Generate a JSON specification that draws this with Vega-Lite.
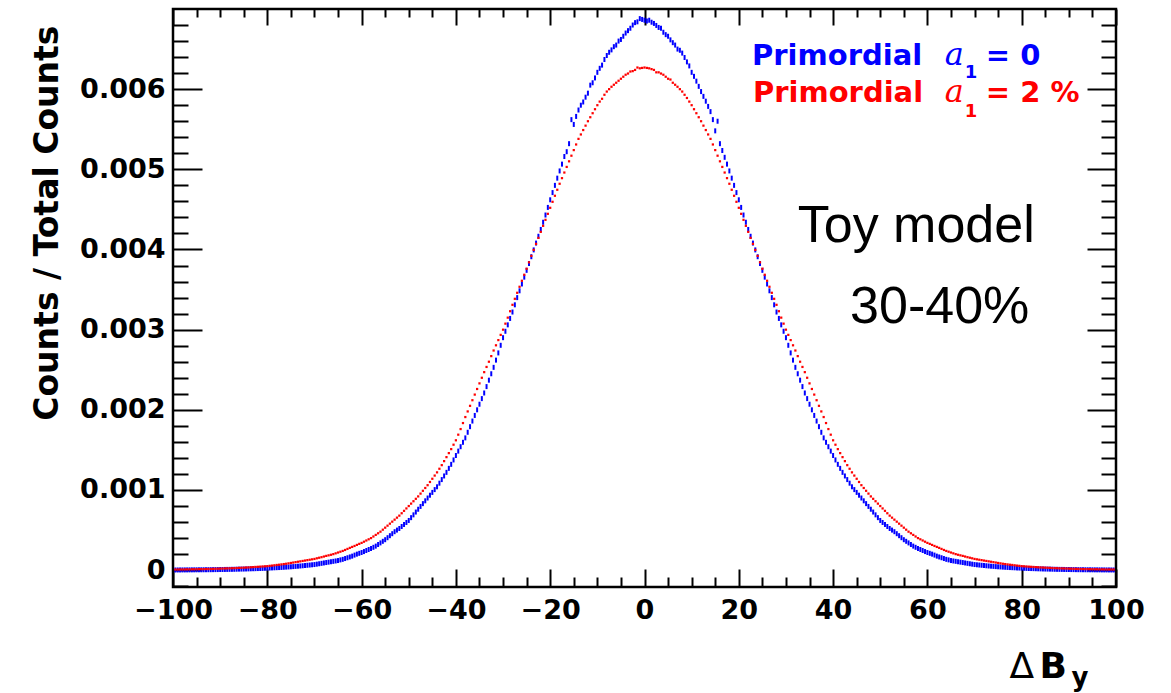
{
  "$schema": "https://vega.github.io/schema/vega-lite/v6.json",
  "width": 943,
  "height": 578,
  "autosize": {"type": "none"},
  "padding": {"left": 173, "top": 9, "right": 55, "bottom": 106},
  "background": "white",
  "config": {
    "view": {"stroke": "black", "strokeWidth": 2.5},
    "axis": {
      "grid": false,
      "domain": false,
      "labelFont": "DejaVu Sans",
      "labelFontWeight": "bold",
      "labelFontSize": 27,
      "labelColor": "black",
      "tickColor": "black",
      "tickWidth": 2,
      "titleColor": "black",
      "labelFlush": false,
      "labelOverlap": false
    }
  },
  "data": {
    "values": [
      {"x":-99.5,"b":0.0022e-3,"r":0.0082e-3},{"x":-99,"b":0.0025e-3,"r":0.0085e-3},{"x":-98.5,"b":0.0028e-3,"r":0.0088e-3},{"x":-98,"b":0.003e-3,"r":0.009e-3},
      {"x":-97.5,"b":0.0032e-3,"r":0.0095e-3},{"x":-97,"b":0.0035e-3,"r":0.010e-3},{"x":-96.5,"b":0.0038e-3,"r":0.0105e-3},{"x":-96,"b":0.004e-3,"r":0.011e-3},
      {"x":-95.5,"b":0.0042e-3,"r":0.0115e-3},{"x":-95,"b":0.0045e-3,"r":0.012e-3},{"x":-94.5,"b":0.0048e-3,"r":0.0125e-3},{"x":-94,"b":0.005e-3,"r":0.013e-3},
      {"x":-93.5,"b":0.0052e-3,"r":0.0135e-3},{"x":-93,"b":0.0055e-3,"r":0.014e-3},{"x":-92.5,"b":0.0058e-3,"r":0.0145e-3},{"x":-92,"b":0.006e-3,"r":0.015e-3},
      {"x":-91.5,"b":0.0065e-3,"r":0.016e-3},{"x":-91,"b":0.007e-3,"r":0.017e-3},{"x":-90.5,"b":0.0075e-3,"r":0.018e-3},{"x":-90,"b":0.008e-3,"r":0.019e-3},
      {"x":-89.5,"b":0.0085e-3,"r":0.020e-3},{"x":-89,"b":0.009e-3,"r":0.021e-3},{"x":-88.5,"b":0.0095e-3,"r":0.022e-3},{"x":-88,"b":0.010e-3,"r":0.023e-3},
      {"x":-87.5,"b":0.0105e-3,"r":0.024e-3},{"x":-87,"b":0.011e-3,"r":0.025e-3},{"x":-86.5,"b":0.012e-3,"r":0.0265e-3},{"x":-86,"b":0.013e-3,"r":0.028e-3},
      {"x":-85.5,"b":0.0135e-3,"r":0.0295e-3},{"x":-85,"b":0.014e-3,"r":0.031e-3},{"x":-84.5,"b":0.015e-3,"r":0.0325e-3},{"x":-84,"b":0.016e-3,"r":0.034e-3},
      {"x":-83.5,"b":0.017e-3,"r":0.036e-3},{"x":-83,"b":0.018e-3,"r":0.038e-3},{"x":-82.5,"b":0.019e-3,"r":0.040e-3},{"x":-82,"b":0.020e-3,"r":0.042e-3},
      {"x":-81.5,"b":0.021e-3,"r":0.044e-3},{"x":-81,"b":0.022e-3,"r":0.046e-3},{"x":-80.5,"b":0.0235e-3,"r":0.048e-3},{"x":-80,"b":0.025e-3,"r":0.050e-3},
      {"x":-79.5,"b":0.0265e-3,"r":0.054e-3},{"x":-79,"b":0.028e-3,"r":0.057e-3},{"x":-78.5,"b":0.0295e-3,"r":0.061e-3},{"x":-78,"b":0.031e-3,"r":0.065e-3},
      {"x":-77.5,"b":0.0325e-3,"r":0.068e-3},{"x":-77,"b":0.034e-3,"r":0.072e-3},{"x":-76.5,"b":0.036e-3,"r":0.076e-3},{"x":-76,"b":0.038e-3,"r":0.080e-3},
      {"x":-75.5,"b":0.040e-3,"r":0.085e-3},{"x":-75,"b":0.042e-3,"r":0.090e-3},{"x":-74.5,"b":0.0445e-3,"r":0.095e-3},{"x":-74,"b":0.047e-3,"r":0.100e-3},
      {"x":-73.5,"b":0.0495e-3,"r":0.105e-3},{"x":-73,"b":0.052e-3,"r":0.110e-3},{"x":-72.5,"b":0.055e-3,"r":0.115e-3},{"x":-72,"b":0.058e-3,"r":0.120e-3},
      {"x":-71.5,"b":0.061e-3,"r":0.125e-3},{"x":-71,"b":0.064e-3,"r":0.130e-3},{"x":-70.5,"b":0.067e-3,"r":0.135e-3},{"x":-70,"b":0.070e-3,"r":0.140e-3},
      {"x":-69.5,"b":0.075e-3,"r":0.148e-3},{"x":-69,"b":0.080e-3,"r":0.155e-3},{"x":-68.5,"b":0.085e-3,"r":0.162e-3},{"x":-68,"b":0.090e-3,"r":0.170e-3},
      {"x":-67.5,"b":0.095e-3,"r":0.178e-3},{"x":-67,"b":0.100e-3,"r":0.185e-3},{"x":-66.5,"b":0.105e-3,"r":0.192e-3},{"x":-66,"b":0.110e-3,"r":0.200e-3},
      {"x":-65.5,"b":0.115e-3,"r":0.210e-3},{"x":-65,"b":0.120e-3,"r":0.220e-3},{"x":-64.5,"b":0.128e-3,"r":0.230e-3},{"x":-64,"b":0.135e-3,"r":0.240e-3},
      {"x":-63.5,"b":0.145e-3,"r":0.252e-3},{"x":-63,"b":0.155e-3,"r":0.265e-3},{"x":-62.5,"b":0.165e-3,"r":0.278e-3},{"x":-62,"b":0.175e-3,"r":0.290e-3},
      {"x":-61.5,"b":0.188e-3,"r":0.302e-3},{"x":-61,"b":0.200e-3,"r":0.315e-3},{"x":-60.5,"b":0.210e-3,"r":0.328e-3},{"x":-60,"b":0.220e-3,"r":0.340e-3},
      {"x":-59.5,"b":0.232e-3,"r":0.355e-3},{"x":-59,"b":0.245e-3,"r":0.370e-3},{"x":-58.5,"b":0.258e-3,"r":0.385e-3},{"x":-58,"b":0.270e-3,"r":0.400e-3},
      {"x":-57.5,"b":0.285e-3,"r":0.420e-3},{"x":-57,"b":0.300e-3,"r":0.440e-3},{"x":-56.5,"b":0.320e-3,"r":0.460e-3},{"x":-56,"b":0.340e-3,"r":0.480e-3},
      {"x":-55.5,"b":0.360e-3,"r":0.505e-3},{"x":-55,"b":0.380e-3,"r":0.530e-3},{"x":-54.5,"b":0.405e-3,"r":0.555e-3},{"x":-54,"b":0.430e-3,"r":0.580e-3},
      {"x":-53.5,"b":0.455e-3,"r":0.605e-3},{"x":-53,"b":0.480e-3,"r":0.630e-3},{"x":-52.5,"b":0.500e-3,"r":0.655e-3},{"x":-52,"b":0.520e-3,"r":0.680e-3},
      {"x":-51.5,"b":0.545e-3,"r":0.710e-3},{"x":-51,"b":0.570e-3,"r":0.740e-3},{"x":-50.5,"b":0.595e-3,"r":0.770e-3},{"x":-50,"b":0.620e-3,"r":0.800e-3},
      {"x":-49.5,"b":0.655e-3,"r":0.830e-3},{"x":-49,"b":0.690e-3,"r":0.860e-3},{"x":-48.5,"b":0.725e-3,"r":0.890e-3},{"x":-48,"b":0.760e-3,"r":0.920e-3},
      {"x":-47.5,"b":0.795e-3,"r":0.955e-3},{"x":-47,"b":0.830e-3,"r":0.990e-3},{"x":-46.5,"b":0.865e-3,"r":1.025e-3},{"x":-46,"b":0.900e-3,"r":1.060e-3},
      {"x":-45.5,"b":0.935e-3,"r":1.100e-3},{"x":-45,"b":0.970e-3,"r":1.140e-3},{"x":-44.5,"b":1.005e-3,"r":1.180e-3},{"x":-44,"b":1.040e-3,"r":1.220e-3},
      {"x":-43.5,"b":1.085e-3,"r":1.265e-3},{"x":-43,"b":1.130e-3,"r":1.310e-3},{"x":-42.5,"b":1.175e-3,"r":1.360e-3},{"x":-42,"b":1.220e-3,"r":1.410e-3},
      {"x":-41.5,"b":1.270e-3,"r":1.460e-3},{"x":-41,"b":1.320e-3,"r":1.510e-3},{"x":-40.5,"b":1.375e-3,"r":1.565e-3},{"x":-40,"b":1.430e-3,"r":1.620e-3},
      {"x":-39.5,"b":1.485e-3,"r":1.690e-3},{"x":-39,"b":1.540e-3,"r":1.760e-3},{"x":-38.5,"b":1.595e-3,"r":1.835e-3},{"x":-38,"b":1.650e-3,"r":1.910e-3},
      {"x":-37.5,"b":1.720e-3,"r":1.980e-3},{"x":-37,"b":1.790e-3,"r":2.050e-3},{"x":-36.5,"b":1.860e-3,"r":2.120e-3},{"x":-36,"b":1.930e-3,"r":2.190e-3},
      {"x":-35.5,"b":2.000e-3,"r":2.260e-3},{"x":-35,"b":2.070e-3,"r":2.330e-3},{"x":-34.5,"b":2.140e-3,"r":2.400e-3},{"x":-34,"b":2.210e-3,"r":2.470e-3},
      {"x":-33.5,"b":2.290e-3,"r":2.535e-3},{"x":-33,"b":2.370e-3,"r":2.600e-3},{"x":-32.5,"b":2.450e-3,"r":2.670e-3},{"x":-32,"b":2.530e-3,"r":2.740e-3},
      {"x":-31.5,"b":2.620e-3,"r":2.805e-3},{"x":-31,"b":2.710e-3,"r":2.870e-3},{"x":-30.5,"b":2.805e-3,"r":2.935e-3},{"x":-30,"b":2.900e-3,"r":3.000e-3},
      {"x":-29.5,"b":2.980e-3,"r":3.075e-3},{"x":-29,"b":3.060e-3,"r":3.150e-3},{"x":-28.5,"b":3.140e-3,"r":3.230e-3},{"x":-28,"b":3.220e-3,"r":3.310e-3},
      {"x":-27.5,"b":3.310e-3,"r":3.385e-3},{"x":-27,"b":3.400e-3,"r":3.460e-3},{"x":-26.5,"b":3.485e-3,"r":3.535e-3},{"x":-26,"b":3.570e-3,"r":3.610e-3},
      {"x":-25.5,"b":3.655e-3,"r":3.685e-3},{"x":-25,"b":3.740e-3,"r":3.760e-3},{"x":-24.5,"b":3.825e-3,"r":3.840e-3},{"x":-24,"b":3.910e-3,"r":3.920e-3},
      {"x":-23.5,"b":3.995e-3,"r":3.995e-3},{"x":-23,"b":4.080e-3,"r":4.070e-3},{"x":-22.5,"b":4.165e-3,"r":4.145e-3},{"x":-22,"b":4.250e-3,"r":4.220e-3},
      {"x":-21.5,"b":4.340e-3,"r":4.295e-3},{"x":-21,"b":4.430e-3,"r":4.370e-3},{"x":-20.5,"b":4.525e-3,"r":4.445e-3},{"x":-20,"b":4.620e-3,"r":4.520e-3},
      {"x":-19.5,"b":4.710e-3,"r":4.595e-3},{"x":-19,"b":4.800e-3,"r":4.670e-3},{"x":-18.5,"b":4.890e-3,"r":4.745e-3},{"x":-18,"b":4.980e-3,"r":4.820e-3},
      {"x":-17.5,"b":5.065e-3,"r":4.890e-3},{"x":-17,"b":5.160e-3,"r":4.960e-3},{"x":-16.5,"b":5.220e-3,"r":5.030e-3},{"x":-16,"b":5.320e-3,"r":5.100e-3},
      {"x":-15.5,"b":5.620e-3,"r":5.170e-3},{"x":-15,"b":5.560e-3,"r":5.240e-3},{"x":-14.5,"b":5.660e-3,"r":5.310e-3},{"x":-14,"b":5.740e-3,"r":5.380e-3},
      {"x":-13.5,"b":5.800e-3,"r":5.435e-3},{"x":-13,"b":5.840e-3,"r":5.490e-3},{"x":-12.5,"b":5.900e-3,"r":5.545e-3},{"x":-12,"b":5.950e-3,"r":5.600e-3},
      {"x":-11.5,"b":6.050e-3,"r":5.650e-3},{"x":-11,"b":6.080e-3,"r":5.700e-3},{"x":-10.5,"b":6.140e-3,"r":5.750e-3},{"x":-10,"b":6.210e-3,"r":5.800e-3},
      {"x":-9.5,"b":6.260e-3,"r":5.845e-3},{"x":-9,"b":6.300e-3,"r":5.880e-3},{"x":-8.5,"b":6.370e-3,"r":5.930e-3},{"x":-8,"b":6.420e-3,"r":5.970e-3},
      {"x":-7.5,"b":6.460e-3,"r":6.000e-3},{"x":-7,"b":6.490e-3,"r":6.030e-3},{"x":-6.5,"b":6.530e-3,"r":6.055e-3},{"x":-6,"b":6.550e-3,"r":6.080e-3},
      {"x":-5.5,"b":6.600e-3,"r":6.105e-3},{"x":-5,"b":6.620e-3,"r":6.130e-3},{"x":-4.5,"b":6.660e-3,"r":6.155e-3},{"x":-4,"b":6.700e-3,"r":6.180e-3},
      {"x":-3.5,"b":6.730e-3,"r":6.195e-3},{"x":-3,"b":6.760e-3,"r":6.220e-3},{"x":-2.5,"b":6.800e-3,"r":6.225e-3},{"x":-2,"b":6.830e-3,"r":6.240e-3},
      {"x":-1.5,"b":6.840e-3,"r":6.270e-3},{"x":-1,"b":6.880e-3,"r":6.260e-3},{"x":-0.5,"b":6.870e-3,"r":6.265e-3},{"x":0,"b":6.860e-3,"r":6.270e-3},
      {"x":0.5,"b":6.850e-3,"r":6.265e-3},{"x":1,"b":6.860e-3,"r":6.260e-3},{"x":1.5,"b":6.835e-3,"r":6.250e-3},{"x":2,"b":6.820e-3,"r":6.240e-3},
      {"x":2.5,"b":6.795e-3,"r":6.210e-3},{"x":3,"b":6.770e-3,"r":6.210e-3},{"x":3.5,"b":6.760e-3,"r":6.195e-3},{"x":4,"b":6.710e-3,"r":6.180e-3},
      {"x":4.5,"b":6.680e-3,"r":6.155e-3},{"x":5,"b":6.660e-3,"r":6.130e-3},{"x":5.5,"b":6.615e-3,"r":6.120e-3},{"x":6,"b":6.580e-3,"r":6.080e-3},
      {"x":6.5,"b":6.550e-3,"r":6.055e-3},{"x":7,"b":6.500e-3,"r":6.030e-3},{"x":7.5,"b":6.485e-3,"r":6.000e-3},{"x":8,"b":6.450e-3,"r":5.970e-3},
      {"x":8.5,"b":6.395e-3,"r":5.930e-3},{"x":9,"b":6.340e-3,"r":5.890e-3},{"x":9.5,"b":6.290e-3,"r":5.845e-3},{"x":10,"b":6.210e-3,"r":5.800e-3},
      {"x":10.5,"b":6.160e-3,"r":5.750e-3},{"x":11,"b":6.100e-3,"r":5.700e-3},{"x":11.5,"b":6.035e-3,"r":5.650e-3},{"x":12,"b":5.970e-3,"r":5.600e-3},
      {"x":12.5,"b":5.910e-3,"r":5.545e-3},{"x":13,"b":5.850e-3,"r":5.490e-3},{"x":13.5,"b":5.785e-3,"r":5.435e-3},{"x":14,"b":5.720e-3,"r":5.380e-3},
      {"x":14.5,"b":5.620e-3,"r":5.310e-3},{"x":15,"b":5.480e-3,"r":5.240e-3},{"x":15.5,"b":5.600e-3,"r":5.170e-3},{"x":16,"b":5.320e-3,"r":5.100e-3},
      {"x":16.5,"b":5.235e-3,"r":5.030e-3},{"x":17,"b":5.150e-3,"r":4.960e-3},{"x":17.5,"b":5.065e-3,"r":4.890e-3},{"x":18,"b":4.980e-3,"r":4.820e-3},
      {"x":18.5,"b":4.890e-3,"r":4.745e-3},{"x":19,"b":4.800e-3,"r":4.670e-3},{"x":19.5,"b":4.710e-3,"r":4.595e-3},{"x":20,"b":4.620e-3,"r":4.520e-3},
      {"x":20.5,"b":4.525e-3,"r":4.445e-3},{"x":21,"b":4.430e-3,"r":4.370e-3},{"x":21.5,"b":4.340e-3,"r":4.295e-3},{"x":22,"b":4.250e-3,"r":4.220e-3},
      {"x":22.5,"b":4.165e-3,"r":4.145e-3},{"x":23,"b":4.080e-3,"r":4.070e-3},{"x":23.5,"b":3.995e-3,"r":3.995e-3},{"x":24,"b":3.910e-3,"r":3.920e-3},
      {"x":24.5,"b":3.825e-3,"r":3.840e-3},{"x":25,"b":3.740e-3,"r":3.760e-3},{"x":25.5,"b":3.655e-3,"r":3.685e-3},{"x":26,"b":3.570e-3,"r":3.610e-3},
      {"x":26.5,"b":3.485e-3,"r":3.535e-3},{"x":27,"b":3.400e-3,"r":3.460e-3},{"x":27.5,"b":3.310e-3,"r":3.385e-3},{"x":28,"b":3.220e-3,"r":3.310e-3},
      {"x":28.5,"b":3.140e-3,"r":3.230e-3},{"x":29,"b":3.060e-3,"r":3.150e-3},{"x":29.5,"b":2.980e-3,"r":3.075e-3},{"x":30,"b":2.900e-3,"r":3.000e-3},
      {"x":30.5,"b":2.805e-3,"r":2.935e-3},{"x":31,"b":2.710e-3,"r":2.870e-3},{"x":31.5,"b":2.620e-3,"r":2.805e-3},{"x":32,"b":2.530e-3,"r":2.740e-3},
      {"x":32.5,"b":2.450e-3,"r":2.670e-3},{"x":33,"b":2.370e-3,"r":2.600e-3},{"x":33.5,"b":2.290e-3,"r":2.535e-3},{"x":34,"b":2.210e-3,"r":2.470e-3},
      {"x":34.5,"b":2.140e-3,"r":2.400e-3},{"x":35,"b":2.070e-3,"r":2.330e-3},{"x":35.5,"b":2.000e-3,"r":2.260e-3},{"x":36,"b":1.930e-3,"r":2.190e-3},
      {"x":36.5,"b":1.860e-3,"r":2.120e-3},{"x":37,"b":1.790e-3,"r":2.050e-3},{"x":37.5,"b":1.720e-3,"r":1.980e-3},{"x":38,"b":1.650e-3,"r":1.910e-3},
      {"x":38.5,"b":1.595e-3,"r":1.835e-3},{"x":39,"b":1.540e-3,"r":1.760e-3},{"x":39.5,"b":1.485e-3,"r":1.690e-3},{"x":40,"b":1.430e-3,"r":1.620e-3},
      {"x":40.5,"b":1.375e-3,"r":1.565e-3},{"x":41,"b":1.320e-3,"r":1.510e-3},{"x":41.5,"b":1.270e-3,"r":1.460e-3},{"x":42,"b":1.220e-3,"r":1.410e-3},
      {"x":42.5,"b":1.175e-3,"r":1.360e-3},{"x":43,"b":1.130e-3,"r":1.310e-3},{"x":43.5,"b":1.085e-3,"r":1.265e-3},{"x":44,"b":1.040e-3,"r":1.220e-3},
      {"x":44.5,"b":1.005e-3,"r":1.180e-3},{"x":45,"b":0.970e-3,"r":1.140e-3},{"x":45.5,"b":0.935e-3,"r":1.100e-3},{"x":46,"b":0.900e-3,"r":1.060e-3},
      {"x":46.5,"b":0.865e-3,"r":1.025e-3},{"x":47,"b":0.830e-3,"r":0.990e-3},{"x":47.5,"b":0.795e-3,"r":0.955e-3},{"x":48,"b":0.760e-3,"r":0.920e-3},
      {"x":48.5,"b":0.725e-3,"r":0.890e-3},{"x":49,"b":0.690e-3,"r":0.860e-3},{"x":49.5,"b":0.655e-3,"r":0.830e-3},{"x":50,"b":0.620e-3,"r":0.800e-3},
      {"x":50.5,"b":0.595e-3,"r":0.770e-3},{"x":51,"b":0.570e-3,"r":0.740e-3},{"x":51.5,"b":0.545e-3,"r":0.710e-3},{"x":52,"b":0.520e-3,"r":0.680e-3},
      {"x":52.5,"b":0.500e-3,"r":0.655e-3},{"x":53,"b":0.480e-3,"r":0.630e-3},{"x":53.5,"b":0.455e-3,"r":0.605e-3},{"x":54,"b":0.430e-3,"r":0.580e-3},
      {"x":54.5,"b":0.405e-3,"r":0.555e-3},{"x":55,"b":0.380e-3,"r":0.530e-3},{"x":55.5,"b":0.360e-3,"r":0.505e-3},{"x":56,"b":0.340e-3,"r":0.480e-3},
      {"x":56.5,"b":0.320e-3,"r":0.460e-3},{"x":57,"b":0.300e-3,"r":0.440e-3},{"x":57.5,"b":0.285e-3,"r":0.420e-3},{"x":58,"b":0.270e-3,"r":0.400e-3},
      {"x":58.5,"b":0.258e-3,"r":0.385e-3},{"x":59,"b":0.245e-3,"r":0.370e-3},{"x":59.5,"b":0.232e-3,"r":0.355e-3},{"x":60,"b":0.220e-3,"r":0.340e-3},
      {"x":60.5,"b":0.210e-3,"r":0.328e-3},{"x":61,"b":0.200e-3,"r":0.315e-3},{"x":61.5,"b":0.188e-3,"r":0.302e-3},{"x":62,"b":0.175e-3,"r":0.290e-3},
      {"x":62.5,"b":0.165e-3,"r":0.278e-3},{"x":63,"b":0.155e-3,"r":0.265e-3},{"x":63.5,"b":0.145e-3,"r":0.252e-3},{"x":64,"b":0.135e-3,"r":0.240e-3},
      {"x":64.5,"b":0.128e-3,"r":0.230e-3},{"x":65,"b":0.120e-3,"r":0.220e-3},{"x":65.5,"b":0.115e-3,"r":0.210e-3},{"x":66,"b":0.110e-3,"r":0.200e-3},
      {"x":66.5,"b":0.105e-3,"r":0.192e-3},{"x":67,"b":0.100e-3,"r":0.185e-3},{"x":67.5,"b":0.095e-3,"r":0.178e-3},{"x":68,"b":0.090e-3,"r":0.170e-3},
      {"x":68.5,"b":0.085e-3,"r":0.162e-3},{"x":69,"b":0.080e-3,"r":0.155e-3},{"x":69.5,"b":0.075e-3,"r":0.148e-3},{"x":70,"b":0.070e-3,"r":0.140e-3},
      {"x":70.5,"b":0.067e-3,"r":0.135e-3},{"x":71,"b":0.064e-3,"r":0.130e-3},{"x":71.5,"b":0.061e-3,"r":0.125e-3},{"x":72,"b":0.058e-3,"r":0.120e-3},
      {"x":72.5,"b":0.055e-3,"r":0.115e-3},{"x":73,"b":0.052e-3,"r":0.110e-3},{"x":73.5,"b":0.0495e-3,"r":0.105e-3},{"x":74,"b":0.047e-3,"r":0.100e-3},
      {"x":74.5,"b":0.0445e-3,"r":0.095e-3},{"x":75,"b":0.042e-3,"r":0.090e-3},{"x":75.5,"b":0.040e-3,"r":0.085e-3},{"x":76,"b":0.038e-3,"r":0.080e-3},
      {"x":76.5,"b":0.036e-3,"r":0.076e-3},{"x":77,"b":0.034e-3,"r":0.072e-3},{"x":77.5,"b":0.0325e-3,"r":0.068e-3},{"x":78,"b":0.031e-3,"r":0.065e-3},
      {"x":78.5,"b":0.0295e-3,"r":0.061e-3},{"x":79,"b":0.028e-3,"r":0.057e-3},{"x":79.5,"b":0.0265e-3,"r":0.054e-3},{"x":80,"b":0.025e-3,"r":0.050e-3},
      {"x":80.5,"b":0.0235e-3,"r":0.048e-3},{"x":81,"b":0.022e-3,"r":0.046e-3},{"x":81.5,"b":0.021e-3,"r":0.044e-3},{"x":82,"b":0.020e-3,"r":0.042e-3},
      {"x":82.5,"b":0.019e-3,"r":0.040e-3},{"x":83,"b":0.018e-3,"r":0.038e-3},{"x":83.5,"b":0.017e-3,"r":0.036e-3},{"x":84,"b":0.016e-3,"r":0.034e-3},
      {"x":84.5,"b":0.015e-3,"r":0.0325e-3},{"x":85,"b":0.014e-3,"r":0.031e-3},{"x":85.5,"b":0.0135e-3,"r":0.0295e-3},{"x":86,"b":0.013e-3,"r":0.028e-3},
      {"x":86.5,"b":0.012e-3,"r":0.0265e-3},{"x":87,"b":0.011e-3,"r":0.025e-3},{"x":87.5,"b":0.0105e-3,"r":0.024e-3},{"x":88,"b":0.010e-3,"r":0.023e-3},
      {"x":88.5,"b":0.0095e-3,"r":0.022e-3},{"x":89,"b":0.009e-3,"r":0.021e-3},{"x":89.5,"b":0.0085e-3,"r":0.020e-3},{"x":90,"b":0.008e-3,"r":0.019e-3},
      {"x":90.5,"b":0.0075e-3,"r":0.018e-3},{"x":91,"b":0.007e-3,"r":0.017e-3},{"x":91.5,"b":0.0065e-3,"r":0.016e-3},{"x":92,"b":0.006e-3,"r":0.015e-3},
      {"x":92.5,"b":0.0058e-3,"r":0.0145e-3},{"x":93,"b":0.0055e-3,"r":0.014e-3},{"x":93.5,"b":0.0052e-3,"r":0.0135e-3},{"x":94,"b":0.005e-3,"r":0.013e-3},
      {"x":94.5,"b":0.0048e-3,"r":0.0125e-3},{"x":95,"b":0.0045e-3,"r":0.012e-3},{"x":95.5,"b":0.0042e-3,"r":0.0115e-3},{"x":96,"b":0.004e-3,"r":0.011e-3},
      {"x":96.5,"b":0.0038e-3,"r":0.0105e-3},{"x":97,"b":0.0035e-3,"r":0.010e-3},{"x":97.5,"b":0.0032e-3,"r":0.0095e-3},{"x":98,"b":0.003e-3,"r":0.009e-3},
      {"x":98.5,"b":0.0028e-3,"r":0.0088e-3},{"x":99,"b":0.0025e-3,"r":0.0085e-3},{"x":99.5,"b":0.0022e-3,"r":0.0082e-3}
    ]
  },
  "resolve": {"axis": {"x": "independent", "y": "independent"}},
  "layer": [
    {
      "mark": {"type": "tick", "orient": "vertical", "color": "#0000ff", "size": 5, "thickness": 2, "opacity": 1},
      "encoding": {
        "x": {
          "field": "x", "type": "quantitative",
          "scale": {"domain": [-100, 100], "nice": false, "zero": false},
          "axis": {
            "orient": "bottom", "ticks": false, "labels": true,
            "values": [-100, -80, -60, -40, -20, 0, 20, 40, 60, 80, 100],
            "labelPadding": 10,
            "title": "Δ", "titleFont": "DejaVu Sans", "titleFontWeight": "normal", "titleFontSize": 36,
            "titleX": 836, "titleY": 90, "titleAlign": "left", "titleBaseline": "alphabetic", "titleAngle": 0
          }
        },
        "y": {
          "field": "b", "type": "quantitative",
          "scale": {"domain": [-0.00021, 0.007], "nice": false, "zero": false},
          "axis": {
            "orient": "left", "ticks": false, "labels": true,
            "values": [0, 0.001, 0.002, 0.003, 0.004, 0.005, 0.006],
            "labelExpr": "datum.value === 0 ? '0' : format(datum.value, '.3f')",
            "labelPadding": 8,
            "title": "Counts / Total Counts", "titleFont": "DejaVu Sans", "titleFontWeight": "bold", "titleFontSize": 33,
            "titleAngle": -90, "titleX": -116, "titleY": 16, "titleAlign": "right", "titleBaseline": "alphabetic"
          }
        }
      }
    },
    {
      "mark": {"type": "square", "color": "#ff0000", "size": 5, "opacity": 1, "filled": true},
      "encoding": {
        "x": {
          "field": "x", "type": "quantitative",
          "scale": {"domain": [-100, 100], "nice": false, "zero": false},
          "axis": {
            "orient": "bottom", "labels": false, "ticks": true, "tickSize": -18,
            "values": [-100, -80, -60, -40, -20, 0, 20, 40, 60, 80, 100],
            "title": "B", "titleFont": "DejaVu Sans", "titleFontWeight": "bold", "titleFontSize": 36,
            "titleX": 866, "titleY": 90, "titleAlign": "left", "titleBaseline": "alphabetic", "titleAngle": 0
          }
        },
        "y": {
          "field": "r", "type": "quantitative",
          "scale": {"domain": [-0.00021, 0.007], "nice": false, "zero": false},
          "axis": {
            "orient": "left", "labels": false, "ticks": true, "tickSize": -29,
            "values": [0, 0.001, 0.002, 0.003, 0.004, 0.005, 0.006],
            "title": null
          }
        }
      }
    },
    {
      "data": {"values": [{}]},
      "mark": {"type": "text", "text": "Toy model", "font": "Liberation Sans", "fontSize": 52, "color": "black", "align": "left", "baseline": "alphabetic"},
      "encoding": {
        "x": {
          "datum": 32.5, "type": "quantitative",
          "scale": {"domain": [-100, 100], "nice": false, "zero": false},
          "axis": {
            "orient": "bottom", "labels": false, "ticks": true, "tickSize": -10,
            "values": [-95, -90, -85, -75, -70, -65, -55, -50, -45, -35, -30, -25, -15, -10, -5, 5, 10, 15, 25, 30, 35, 45, 50, 55, 65, 70, 75, 85, 90, 95],
            "title": "y", "titleFont": "DejaVu Sans", "titleFontWeight": "bold", "titleFontSize": 26,
            "titleX": 898, "titleY": 98, "titleAlign": "left", "titleBaseline": "alphabetic", "titleAngle": 0
          }
        },
        "y": {
          "datum": 0.004093, "type": "quantitative",
          "scale": {"domain": [-0.00021, 0.007], "nice": false, "zero": false},
          "axis": {
            "orient": "left", "labels": false, "ticks": true, "tickSize": -15,
            "values": [-0.0002, 0.0002, 0.0004, 0.0006, 0.0008, 0.0012, 0.0014, 0.0016, 0.0018, 0.0022, 0.0024, 0.0026, 0.0028, 0.0032, 0.0034, 0.0036, 0.0038, 0.0042, 0.0044, 0.0046, 0.0048, 0.0052, 0.0054, 0.0056, 0.0058, 0.0062, 0.0064, 0.0066, 0.0068],
            "title": null
          }
        }
      }
    },
    {
      "data": {"values": [{}]},
      "mark": {"type": "text", "text": "30-40%", "font": "Liberation Sans", "fontSize": 52, "color": "black", "align": "left", "baseline": "alphabetic"},
      "encoding": {
        "x": {
          "datum": 43.6, "type": "quantitative",
          "scale": {"domain": [-100, 100], "nice": false, "zero": false},
          "axis": {
            "orient": "top", "labels": false, "ticks": true, "tickSize": -16,
            "values": [-100, -80, -60, -40, -20, 0, 20, 40, 60, 80, 100],
            "title": null
          }
        },
        "y": {
          "datum": 0.003083, "type": "quantitative",
          "scale": {"domain": [-0.00021, 0.007], "nice": false, "zero": false},
          "axis": {
            "orient": "right", "labels": false, "ticks": true, "tickSize": -29,
            "values": [0, 0.001, 0.002, 0.003, 0.004, 0.005, 0.006],
            "title": null
          }
        }
      }
    },
    {
      "data": {"values": [{}]},
      "mark": {"type": "text", "text": "Primordial", "font": "DejaVu Sans", "fontWeight": "bold", "fontSize": 29, "color": "#0000ff", "align": "left", "baseline": "alphabetic"},
      "encoding": {
        "x": {
          "datum": 22.8, "type": "quantitative",
          "scale": {"domain": [-100, 100], "nice": false, "zero": false},
          "axis": {
            "orient": "top", "labels": false, "ticks": true, "tickSize": -8,
            "values": [-95, -90, -85, -75, -70, -65, -55, -50, -45, -35, -30, -25, -15, -10, -5, 5, 10, 15, 25, 30, 35, 45, 50, 55, 65, 70, 75, 85, 90, 95],
            "title": null
          }
        },
        "y": {
          "datum": 0.006301, "type": "quantitative",
          "scale": {"domain": [-0.00021, 0.007], "nice": false, "zero": false},
          "axis": {
            "orient": "right", "labels": false, "ticks": true, "tickSize": -15,
            "values": [-0.0002, 0.0002, 0.0004, 0.0006, 0.0008, 0.0012, 0.0014, 0.0016, 0.0018, 0.0022, 0.0024, 0.0026, 0.0028, 0.0032, 0.0034, 0.0036, 0.0038, 0.0042, 0.0044, 0.0046, 0.0048, 0.0052, 0.0054, 0.0056, 0.0058, 0.0062, 0.0064, 0.0066, 0.0068],
            "title": null
          }
        }
      }
    },
    {
      "data": {"values": [{}]},
      "mark": {"type": "text", "text": "a", "font": "DejaVu Serif", "fontStyle": "italic", "fontSize": 32, "color": "#0000ff", "align": "left", "baseline": "alphabetic"},
      "encoding": {
        "x": {"datum": 63.7, "type": "quantitative", "scale": {"domain": [-100, 100], "nice": false, "zero": false}, "axis": null},
        "y": {"datum": 0.006301, "type": "quantitative", "scale": {"domain": [-0.00021, 0.007], "nice": false, "zero": false}, "axis": null}
      }
    },
    {
      "data": {"values": [{}]},
      "mark": {"type": "text", "text": "1", "font": "DejaVu Sans", "fontWeight": "bold", "fontSize": 18, "color": "#0000ff", "align": "left", "baseline": "alphabetic"},
      "encoding": {
        "x": {"datum": 67.9, "type": "quantitative", "scale": {"domain": [-100, 100], "nice": false, "zero": false}, "axis": null},
        "y": {"datum": 0.006139, "type": "quantitative", "scale": {"domain": [-0.00021, 0.007], "nice": false, "zero": false}, "axis": null}
      }
    },
    {
      "data": {"values": [{}]},
      "mark": {"type": "text", "text": "= 0", "font": "DejaVu Sans", "fontWeight": "bold", "fontSize": 29, "color": "#0000ff", "align": "left", "baseline": "alphabetic"},
      "encoding": {
        "x": {"datum": 72.4, "type": "quantitative", "scale": {"domain": [-100, 100], "nice": false, "zero": false}, "axis": null},
        "y": {"datum": 0.006301, "type": "quantitative", "scale": {"domain": [-0.00021, 0.007], "nice": false, "zero": false}, "axis": null}
      }
    },
    {
      "data": {"values": [{}]},
      "mark": {"type": "text", "text": "Primordial", "font": "DejaVu Sans", "fontWeight": "bold", "fontSize": 29, "color": "#ff0000", "align": "left", "baseline": "alphabetic"},
      "encoding": {
        "x": {"datum": 23.0, "type": "quantitative", "scale": {"domain": [-100, 100], "nice": false, "zero": false}, "axis": null},
        "y": {"datum": 0.00584, "type": "quantitative", "scale": {"domain": [-0.00021, 0.007], "nice": false, "zero": false}, "axis": null}
      }
    },
    {
      "data": {"values": [{}]},
      "mark": {"type": "text", "text": "a", "font": "DejaVu Serif", "fontStyle": "italic", "fontSize": 32, "color": "#ff0000", "align": "left", "baseline": "alphabetic"},
      "encoding": {
        "x": {"datum": 63.7, "type": "quantitative", "scale": {"domain": [-100, 100], "nice": false, "zero": false}, "axis": null},
        "y": {"datum": 0.00584, "type": "quantitative", "scale": {"domain": [-0.00021, 0.007], "nice": false, "zero": false}, "axis": null}
      }
    },
    {
      "data": {"values": [{}]},
      "mark": {"type": "text", "text": "1", "font": "DejaVu Sans", "fontWeight": "bold", "fontSize": 18, "color": "#ff0000", "align": "left", "baseline": "alphabetic"},
      "encoding": {
        "x": {"datum": 67.9, "type": "quantitative", "scale": {"domain": [-100, 100], "nice": false, "zero": false}, "axis": null},
        "y": {"datum": 0.005653, "type": "quantitative", "scale": {"domain": [-0.00021, 0.007], "nice": false, "zero": false}, "axis": null}
      }
    },
    {
      "data": {"values": [{}]},
      "mark": {"type": "text", "text": "= 2 %", "font": "DejaVu Sans", "fontWeight": "bold", "fontSize": 29, "color": "#ff0000", "align": "left", "baseline": "alphabetic"},
      "encoding": {
        "x": {"datum": 72.4, "type": "quantitative", "scale": {"domain": [-100, 100], "nice": false, "zero": false}, "axis": null},
        "y": {"datum": 0.00584, "type": "quantitative", "scale": {"domain": [-0.00021, 0.007], "nice": false, "zero": false}, "axis": null}
      }
    }
  ]
}
